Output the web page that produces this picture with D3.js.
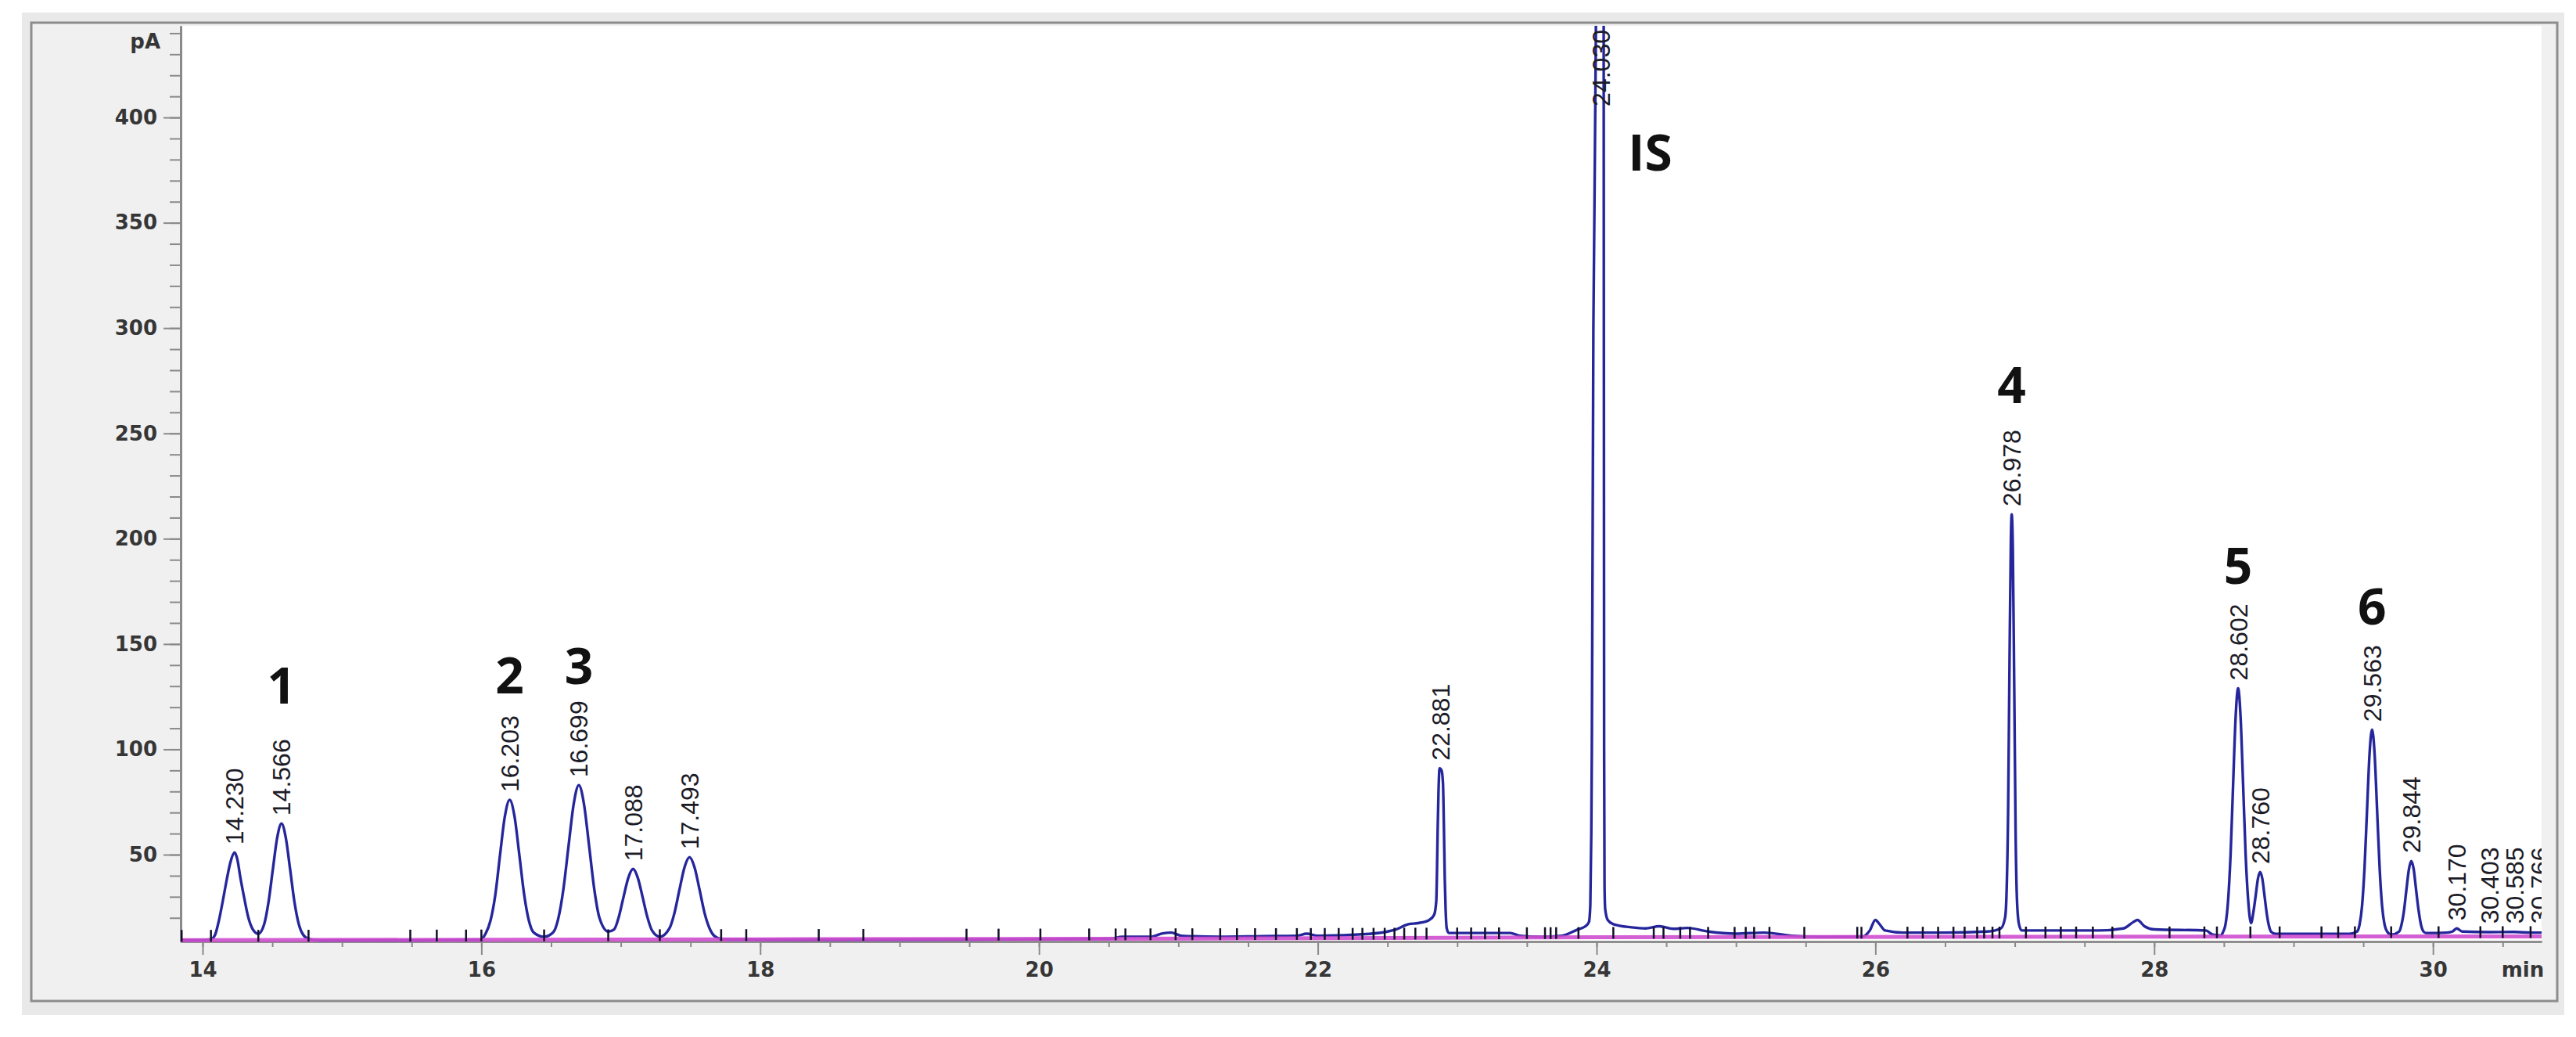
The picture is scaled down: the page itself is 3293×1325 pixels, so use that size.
<!DOCTYPE html>
<html><head><meta charset="utf-8">
<script src="https://cdn.jsdelivr.net/npm/d3@7/dist/d3.min.js"></script>
<style>html,body{margin:0;padding:0;background:#fff;} svg{display:block;}</style>
</head><body>
<svg id="chart" width="3293" height="1325"></svg>
<script>
// ---- chromatogram trace (time in min, signal in pA) ----
const traceTime = [
 13.843,14.00,14.06,14.09,14.118,14.145,14.174,14.20,14.23,14.25,14.27,14.30,14.325,14.36,14.40,
 14.442,14.473,14.504,14.535,14.566,14.597,14.628,14.659,14.69,14.721,14.76,14.84,15.50,15.99,
 16.03,16.065,16.10,16.134,16.168,16.203,16.238,16.272,16.307,16.341,16.376,16.45,
 16.514,16.551,16.588,16.625,16.662,16.699,16.736,16.773,16.81,16.847,16.91,
 16.952,16.986,17.02,17.054,17.088,17.122,17.156,17.19,17.224,17.28,
 17.349,17.385,17.421,17.457,17.493,17.529,17.565,17.601,17.637,17.673,17.73,
 18.05,18.19,19.50,20.50,20.60,20.80,20.88,20.95,21.02,21.30,21.60,21.85,21.92,22.00,22.37,22.50,22.56,
 22.65,22.72,22.80,22.835,22.85,22.855,22.86,22.866,22.874,22.888,22.898,22.905,22.911,22.917,22.925,22.94,
 23.38,23.45,23.60,23.75,23.865,23.92,23.945,23.955,23.962,23.966,23.977,23.995,24.01,24.03,24.045,
 24.051,24.054,24.057,24.062,24.08,24.12,24.25,24.35,24.45,24.55,24.65,24.80,25.00,25.20,25.40,25.60,
 25.90,25.96,26.00,26.03,26.07,26.20,26.50,26.80,26.90,26.93,26.94,26.952,26.962,26.972,26.978,26.986,
 26.996,27.006,27.016,27.03,27.05,27.60,27.78,27.85,27.88,27.93,28.00,28.37,28.42,28.48,
 28.494,28.512,28.53,28.548,28.566,28.584,28.602,28.62,28.638,28.656,28.674,28.695,
 28.712,28.728,28.744,28.76,28.776,28.792,28.808,28.824,28.84,28.87,29.40,
 29.455,29.473,29.491,29.509,29.527,29.545,29.563,29.581,29.599,29.617,29.635,29.653,29.671,29.70,
 29.757,29.774,29.792,29.809,29.827,29.844,29.862,29.879,29.897,29.914,29.932,29.95,
 30.10,30.14,30.17,30.21,30.40,30.585,30.70,30.779
];
const traceSignal = [
 9.4,9.5,9.8,12,19,28,38.4,46.5,51,47.5,39.5,29,21,14.6,12.4,
 17,27.5,43,58,64.8,58,43,27.5,17,12,10,9.3,9.3,9.6,
 12.5,18.6,31,50,68,76,68,50,31,18.6,13,11,
 13,19.5,33.5,54,74,83,74,54,33.5,20,13.5,
 14.5,20.5,30,39,43.2,39,30,20.5,14,11,
 15,22.3,33.4,44,48.8,44,33.4,22.3,15,11.3,9.8,
 9.6,9.6,9.7,10,11,11,12.5,13,11.5,11,11.3,11.5,12.5,11.5,12.4,13.5,14.5,
 17,17.5,19,21.5,28,42,62,80,91,90,84,62,38.4,24,15,12.8,
 12.8,11.5,11,11.5,14.5,16,18,26,60,100,300,440,800,1500,1000,
 440,100,35,24,19,17,15.5,15,16,14.8,15.2,13.5,12.5,13,11.5,11,
 11,14,19,17,14,13,13,13.5,15,20,30,70,140,200,211.6,195,
 130,60,28,17,14,14,15,18,19,16,14.5,14,12,11.6,
 13.3,17,28,50,83,115,129,115,83,50,28.6,17.5,
 22.9,30.5,38.5,41.8,38.5,30.2,21.8,16,13.3,12.4,12.4,
 13.5,16.7,25.5,43.9,71.3,98,109.4,98,71.3,43.9,25.5,16.7,13.5,12,
 13.5,16.7,23.4,33.2,42.9,47,42.9,33.2,23.4,16.7,13.5,12.8,
 13,13.5,15,13.5,13.2,13.3,13,13
];
// integration baseline (magenta)
const baselineTime   = [13.843, 18.0, 22.0, 24.0, 30.779];
const baselineSignal = [9.4, 9.8, 10.3, 10.8, 11.2];
// integration event marks (min)
const eventTimes = [13.85,14.06,14.40,14.76,15.49,15.68,15.89,16.0,16.45,16.91,17.28,17.72,17.9,18.42,18.74,
 19.48,19.71,20.01,20.36,20.55,20.62,20.8,20.98,21.1,21.3,21.42,21.55,21.7,21.85,21.95,22.05,22.15,22.25,
 22.32,22.4,22.48,22.55,22.62,22.7,22.78,23.0,23.1,23.2,23.3,23.5,23.63,23.67,23.71,23.87,24.12,24.41,
 24.48,24.6,24.67,24.8,24.99,25.07,25.13,25.24,25.49,25.87,25.9,26.23,26.34,26.45,26.56,26.64,26.73,
 26.78,26.84,26.89,27.08,27.22,27.33,27.44,27.56,27.7,28.11,28.36,28.45,28.69,28.9,29.2,29.32,29.44,
 29.7,30.04,30.34,30.5,30.7];
// retention time labels
const peakTimes   = [14.230,14.566,16.203,16.699,17.088,17.493,22.881,24.030,26.978,28.602,28.760,29.563,29.844,30.170,30.403,30.585,30.766];
const peakHeights = [51,64.8,76,83,43.2,48.8,91,1500,211.6,129,41.8,109.4,47,15,13.5,13.5,13.5];
const peakLabels  = ["14.230","14.566","16.203","16.699","17.088","17.493","22.881","24.030","26.978","28.602","28.760","29.563","29.844","30.170","30.403","30.585","30.766"];
// compound annotations
const compoundNames  = ["1","2","3","IS","4","5","6"];
const compoundTimes  = [14.566,16.203,16.699,24.030,26.978,28.602,29.563];
const compoundLevels = [121.7,126.5,131,374.7,264.4,178.5,159.2];
// axis ticks
const xMajorTicks = [14,16,18,20,22,24,26,28,30];
const xMinorTicks = d3.range(14, 30.8, 0.5);
const yMajorTicks = [50,100,150,200,250,300,350,400];
const yMinorTicks = d3.range(20, 441, 10);

const svg = d3.select("#chart");
const L = 231, R = 3249, T = 33, B = 1203;
const x = d3.scaleLinear().domain([13.843, 30.779]).range([L, R]);
const y = d3.scaleLinear().domain([8.76, 443.5]).range([B, T]);

// frames
svg.append("rect").attr("x",28).attr("y",16).attr("width",3250).attr("height",1281).attr("fill","#e9e9e9");
svg.append("rect").attr("x",40).attr("y",29).attr("width",3229).attr("height",1250)
   .attr("fill","#f0f0f0").attr("stroke","#8d8d8d").attr("stroke-width",3);
svg.append("rect").attr("x",L).attr("y",T).attr("width",R-L).attr("height",B-T).attr("fill","#ffffff");

svg.append("defs").append("clipPath").attr("id","plotClip")
   .append("rect").attr("x",L).attr("y",T).attr("width",R-L).attr("height",B-T+4);

const axisColor = "#8a8a8a";
const fontAxis = "'DejaVu Sans', Verdana, sans-serif";

// x axis
const gxMinor = svg.append("g").attr("transform",`translate(0,${B})`)
  .call(d3.axisBottom(x).tickValues(xMinorTicks).tickSize(7).tickSizeOuter(0).tickFormat(""));
const gxMajor = svg.append("g").attr("transform",`translate(0,${B})`)
  .call(d3.axisBottom(x).tickValues(xMajorTicks).tickSize(17).tickSizeOuter(0).tickPadding(10).tickFormat(d3.format("d")));
[gxMinor,gxMajor].forEach(g=>{
  g.select(".domain").attr("stroke",axisColor).attr("stroke-width",2.5);
  g.selectAll(".tick line").attr("stroke",axisColor).attr("stroke-width",2);
});
gxMajor.selectAll("text").attr("font-family",fontAxis).attr("font-weight","bold")
  .attr("font-size",26).attr("fill","#363636");

// y axis
const gyMinor = svg.append("g").attr("transform",`translate(${L},0)`)
  .call(d3.axisLeft(y).tickValues(yMinorTicks).tickSize(14).tickSizeOuter(0).tickFormat(""));
const gyMajor = svg.append("g").attr("transform",`translate(${L},0)`)
  .call(d3.axisLeft(y).tickValues(yMajorTicks).tickSize(22).tickSizeOuter(0).tickPadding(8));
[gyMinor,gyMajor].forEach(g=>{
  g.select(".domain").attr("stroke",axisColor).attr("stroke-width",3);
  g.selectAll(".tick line").attr("stroke",axisColor).attr("stroke-width",2);
});
gyMajor.selectAll("text").attr("font-family",fontAxis).attr("font-weight","bold")
  .attr("font-size",26).attr("fill","#363636");

svg.append("text").attr("x",205).attr("y",62).attr("text-anchor","end")
  .attr("font-family",fontAxis).attr("font-weight","bold").attr("font-size",26).attr("fill","#363636").text("pA");
svg.append("text").attr("x",3225).attr("y",1248).attr("text-anchor","middle")
  .attr("font-family",fontAxis).attr("font-weight","bold").attr("font-size",26).attr("fill","#363636").text("min");

const plot = svg.append("g").attr("clip-path","url(#plotClip)");

// baseline (under trace region already low)
const baseData = baselineTime.map((t,i)=>[t, baselineSignal[i]]);

// trace
const traceData = traceTime.map((t,i)=>[t, traceSignal[i]]);
plot.append("path").datum(traceData)
  .attr("fill","none").attr("stroke","#26269c").attr("stroke-width",3.4).attr("stroke-linejoin","round")
  .attr("d", d3.line().x(d=>x(d[0])).y(d=>y(d[1])).curve(d3.curveMonotoneX));

plot.append("path").datum(baseData)
  .attr("fill","none").attr("stroke","#cf4ccf").attr("stroke-width",5).attr("stroke-opacity",0.9)
  .attr("d", d3.line().x(d=>x(d[0])).y(d=>y(d[1])));

// event marks
const baseAt = d3.scaleLinear().domain(baselineTime).range(baselineSignal);
plot.append("g").selectAll("line").data(eventTimes).join("line")
  .attr("x1",d=>x(d)).attr("x2",d=>x(d))
  .attr("y1",d=>y(baseAt(d))+2).attr("y2",d=>y(baseAt(d))-13)
  .attr("stroke","#101028").attr("stroke-width",2.5);

// retention time labels
const labelLen = 98;
plot.append("g").selectAll("text").data(peakTimes).join("text")
  .each(function(t,i){
    let yy = y(peakHeights[i]) - 10, anchor = "start";
    if (yy - labelLen < T + 5) { yy = T + 5; anchor = "end"; }
    d3.select(this).attr("transform",`translate(${x(t)},${yy}) rotate(-90)`)
      .attr("text-anchor",anchor);
  })
  .attr("dy","0.36em")
  .attr("font-family","'Liberation Sans', Arial, sans-serif").attr("font-size",32).attr("fill","#1c1c28")
  .text((d,i)=>peakLabels[i]);

// compound annotations
svg.append("g").selectAll("text").data(compoundNames).join("text")
  .attr("x",(d,i)=> d==="IS" ? x(compoundTimes[i])+35 : x(compoundTimes[i]))
  .attr("y",(d,i)=> y(compoundLevels[i]))
  .attr("text-anchor",d=> d==="IS" ? "start" : "middle")
  .attr("font-family","'Open Sans', 'Noto Sans', sans-serif").attr("font-weight","bold")
  .attr("font-size",64).attr("fill","#111")
  .text(d=>d);
</script>
</body></html>
